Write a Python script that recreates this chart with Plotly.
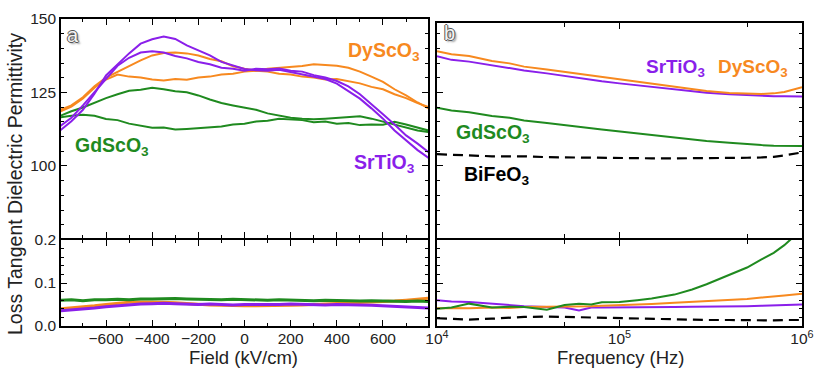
import plotly.graph_objects as go

W, H = 814, 368

# ---------------- Panel a : field sweep ----------------
field = [-800, -750, -700, -650, -600, -550, -500, -450, -400, -350, -300, -250, -200, -150, -100, -50,
         0, 50, 100, 150, 200, 250, 300, 350, 400, 450, 500, 550, 600, 650, 700, 750, 800]

sto_eps_1 = [112.0, 115.2, 119.1, 124.6, 130.8, 134.7, 138.3, 141.6, 143.1, 144.0, 143.2, 141.0, 139.4, 137.6,
             135.4, 134.1, 133.0, 132.6, 132.4, 132.7, 131.9, 131.2, 130.4, 129.6, 128.0, 125.6, 122.9, 119.6,
             116.1, 112.1, 108.6, 105.4, 102.6]
sto_eps_2 = [113.5, 116.4, 120.6, 125.1, 129.9, 134.1, 136.8, 138.6, 139.0, 138.6, 137.4, 136.6, 135.4, 134.6,
             133.4, 133.1, 132.4, 133.1, 132.9, 133.2, 132.4, 132.1, 130.9, 130.1, 128.9, 127.1, 124.4, 121.1,
             117.6, 114.1, 110.4, 107.6, 104.5]
dso_eps_1 = [118.5, 120.2, 123.0, 126.6, 129.4, 131.1, 130.4, 130.1, 129.4, 129.1, 129.6, 129.3, 130.1, 130.4,
             131.1, 131.4, 132.1, 132.4, 133.1, 133.4, 133.6, 134.0, 134.6, 134.4, 134.1, 133.4, 132.1, 130.4,
             128.6, 126.1, 124.0, 121.6, 119.5]
dso_eps_2 = [119.0, 120.6, 123.4, 127.1, 130.1, 132.0, 134.1, 135.9, 137.6, 138.4, 138.6, 138.3, 137.6, 136.4,
             135.6, 133.9, 133.1, 132.4, 132.1, 131.4, 131.1, 130.4, 130.1, 129.4, 129.6, 128.9, 128.1, 126.9,
             126.1, 124.4, 123.1, 121.4, 120.0]
gso_eps_1 = [117.0, 118.6, 119.9, 121.6, 123.1, 124.4, 125.6, 125.9, 126.6, 126.1, 125.4, 125.1, 124.0, 122.6,
             121.4, 120.6, 119.9, 119.1, 117.9, 117.1, 116.4, 116.1, 115.9, 116.1, 116.4, 116.6, 116.9, 116.1,
             115.1, 114.0, 113.1, 112.1, 111.5]
gso_eps_2 = [116.5, 117.1, 117.4, 117.1, 116.0, 115.6, 114.4, 113.6, 113.0, 113.1, 112.4, 112.6, 112.9, 113.1,
             113.4, 114.1, 114.4, 115.1, 115.4, 116.1, 115.9, 115.6, 114.9, 115.1, 114.4, 114.6, 113.9, 114.1,
             114.0, 115.0, 114.1, 113.1, 112.0]

sto_tan = [0.035, 0.037, 0.040, 0.042, 0.045, 0.047, 0.050, 0.051, 0.052, 0.053, 0.052, 0.051, 0.050, 0.051,
           0.050, 0.049, 0.050, 0.050, 0.049, 0.050, 0.051, 0.050, 0.050, 0.049, 0.050, 0.050, 0.049, 0.048,
           0.047, 0.046, 0.044, 0.043, 0.042]
dso_tan = [0.040, 0.042, 0.044, 0.047, 0.050, 0.053, 0.055, 0.056, 0.056, 0.055, 0.054, 0.052, 0.050, 0.049,
           0.048, 0.047, 0.047, 0.047, 0.047, 0.048, 0.048, 0.049, 0.050, 0.051, 0.052, 0.053, 0.054, 0.055,
           0.056, 0.058, 0.060, 0.062, 0.065]
gso_tan = [0.060, 0.061, 0.059, 0.061, 0.061, 0.062, 0.061, 0.063, 0.063, 0.064, 0.064, 0.063, 0.062, 0.062,
           0.061, 0.062, 0.061, 0.061, 0.060, 0.061, 0.060, 0.060, 0.059, 0.060, 0.059, 0.059, 0.058, 0.059,
           0.058, 0.058, 0.057, 0.058, 0.057]

# ---------------- Panel b : frequency sweep ----------------
freq = [1.0e4, 1.2e4, 1.5e4, 2.0e4, 2.5e4, 3.0e4, 4.0e4, 5.0e4, 6.0e4, 7.0e4, 8.0e4, 1.0e5,
        1.25e5, 1.5e5, 2.0e5, 2.5e5, 3.0e5, 4.0e5, 5.0e5, 6.0e5, 7.0e5, 8.0e5, 1.0e6]

dso_eps_f = [139.0, 138.0, 137.4, 135.7, 134.9, 133.8, 132.8, 132.0, 131.2, 130.6, 130.1, 129.3,
             128.5, 127.9, 126.9, 126.1, 125.5, 124.8, 124.5, 124.5, 124.7, 125.2, 126.8]
sto_eps_f = [137.3, 136.1, 135.5, 134.2, 133.3, 132.5, 131.5, 130.6, 129.9, 129.3, 128.8, 128.1,
             127.4, 126.9, 126.0, 125.4, 124.9, 124.4, 124.1, 123.8, 123.7, 123.7, 123.6]
gso_eps_f = [119.8, 118.9, 118.3, 117.0, 116.4, 115.5, 114.6, 113.8, 113.3, 112.8, 112.4, 111.7,
             111.1, 110.6, 109.7, 109.0, 108.5, 107.9, 107.4, 107.1, 106.9, 106.8, 106.8]
bfo_eps_f = [104.0, 103.8, 103.6, 103.3, 103.3, 103.3, 103.0, 102.9, 102.8, 102.7, 102.7, 102.6,
             102.6, 102.6, 102.6, 102.6, 102.6, 102.7, 102.8, 102.9, 103.1, 103.6, 104.6]

dso_tan_f = [0.041, 0.042, 0.041, 0.043, 0.042, 0.044, 0.045, 0.045, 0.046, 0.046, 0.047, 0.048,
             0.049, 0.051, 0.054, 0.056, 0.058, 0.061, 0.063, 0.066, 0.068, 0.071, 0.075]
sto_tan_f = [0.060, 0.057, 0.056, 0.052, 0.048, 0.046, 0.044, 0.043, 0.036, 0.043, 0.043, 0.043,
             0.043, 0.044, 0.044, 0.045, 0.045, 0.046, 0.046, 0.047, 0.048, 0.048, 0.050]
gso_tan_f = [0.040, 0.043, 0.052, 0.043, 0.045, 0.044, 0.038, 0.049, 0.052, 0.050, 0.055, 0.056,
             0.060, 0.064, 0.073, 0.085, 0.097, 0.118, 0.136, 0.155, 0.170, 0.188, 0.225]
bfo_tan_f = [0.018, 0.016, 0.015, 0.017, 0.020, 0.021, 0.022, 0.021, 0.020, 0.019, 0.019, 0.018,
             0.017, 0.016, 0.015, 0.014, 0.014, 0.014, 0.013, 0.013, 0.013, 0.014, 0.014]

ORANGE = "#F7891F"
PURPLE = "#8A1FEA"
GREEN = "#1F8A1F"
BLACK = "#000000"

fig = go.Figure()


def line(x, y, color, xa, ya, width=2.0, dash=None):
    fig.add_trace(go.Scatter(x=x, y=y, mode="lines", xaxis=xa, yaxis=ya, showlegend=False,
                             line=dict(color=color, width=width, dash=dash), hoverinfo="skip"))


# panel a upper
for ys, c in [(gso_eps_1, GREEN), (gso_eps_2, GREEN), (dso_eps_1, ORANGE), (dso_eps_2, ORANGE),
              (sto_eps_1, PURPLE), (sto_eps_2, PURPLE)]:
    line(field, ys, c, "x", "y")
# panel a lower
for ys, c in [(dso_tan, ORANGE), (sto_tan, PURPLE), (gso_tan, GREEN)]:
    line(field, ys, c, "x2", "y2", width=3)
# panel b upper
for ys, c in [(gso_eps_f, GREEN), (sto_eps_f, PURPLE), (dso_eps_f, ORANGE)]:
    line(freq, ys, c, "x3", "y3")
line(freq, bfo_eps_f, BLACK, "x3", "y3", width=2.2, dash="10px,6px")
# panel b lower
for ys, c in [(sto_tan_f, PURPLE), (dso_tan_f, ORANGE), (gso_tan_f, GREEN)]:
    line(freq, ys, c, "x4", "y4")
line(freq, bfo_tan_f, BLACK, "x4", "y4", width=2.2, dash="10px,6px")


def px_x(p):
    return p / W


def px_y(p):
    return 1 - p / H


FONT = "Liberation Sans, Arial, sans-serif"
common = dict(showline=True, linecolor="black", linewidth=1.6, mirror="ticks", ticks="inside",
              ticklen=6, tickwidth=1.2, tickcolor="black", showgrid=False, zeroline=False,
              tickfont=dict(family=FONT, size=15.5, color="#222"))

xa_dom = [px_x(61), px_x(428)]
xb_dom = [px_x(437), px_x(802)]
up_dom = [px_y(238), px_y(19)]
upb_dom = [px_y(238), px_y(22.7)]
lo_dom = [px_y(326), px_y(240)]

minor_f = dict(dtick=100, ticks="inside", ticklen=3, tickcolor="black", tickwidth=1, showgrid=False)
minor_eps = dict(dtick=5, ticks="inside", ticklen=3, tickcolor="black", tickwidth=1, showgrid=False)
minor_tan = dict(dtick=0.02, ticks="inside", ticklen=3, tickcolor="black", tickwidth=1, showgrid=False)
minor_log = dict(tickmode="array", tickvals=[5e4, 5e5], ticks="inside", ticklen=4, tickcolor="black",
                 tickwidth=1, showgrid=False)

fig.update_layout(
    width=W, height=H, margin=dict(l=0, r=0, t=0, b=0, autoexpand=False),
    paper_bgcolor="white", plot_bgcolor="white",
    font=dict(family=FONT, color="#222"),
    xaxis=dict(domain=xa_dom, range=[-795, 795], anchor="y", tickvals=[-600, -400, -200, 0, 200, 400, 600],
               showticklabels=False, minor=minor_f, **common),
    yaxis=dict(domain=up_dom, range=[75.5, 150], anchor="x", tickvals=[100, 125, 150], minor=minor_eps, **common),
    xaxis2=dict(domain=xa_dom, range=[-795, 795], anchor="y2", tickvals=[-600, -400, -200, 0, 200, 400, 600],
                minor=minor_f, ticklabelstandoff=-2, **common),
    yaxis2=dict(domain=lo_dom, range=[0, 0.2], anchor="x2", tickvals=[0, 0.1, 0.2], tickformat=".1f",
                minor=minor_tan, **common),
    xaxis3=dict(domain=xb_dom, type="log", range=[4, 6], anchor="y3", tickvals=[1e4, 1e5, 1e6],
                showticklabels=False, minor=minor_log, **common),
    yaxis3=dict(domain=upb_dom, range=[75.5, 148.74], anchor="x3", tickvals=[100, 125],
                showticklabels=False, minor=minor_eps, **common),
    xaxis4=dict(domain=xb_dom, type="log", range=[4, 6], anchor="y4", tickvals=[1e4, 1e5, 1e6],
                ticktext=["10<sup>4</sup>", "10<sup>5</sup>", "10<sup>6</sup>"], minor=minor_log,
                ticklabelstandoff=-2, **common),
    yaxis4=dict(domain=lo_dom, range=[0, 0.2], anchor="x4", tickvals=[0, 0.1, 0.2],
                showticklabels=False, minor=minor_tan, **common),
)

ann = []


def label(text, x, y, color, size=19.5, bold=True, xanchor="center", angle=0, shadow=None):
    f = dict(family=FONT, size=size, color=color)
    if shadow:
        f["shadow"] = shadow
    ann.append(dict(text=("<b>%s</b>" % text) if bold else text, x=px_x(x), y=px_y(y), xref="paper",
                    yref="paper", showarrow=False, xanchor=xanchor, yanchor="middle", textangle=angle,
                    font=f))


label("DyScO<sub>3</sub>", 384, 52, ORANGE)
label("SrTiO<sub>3</sub>", 384, 163, PURPLE)
label("GdScO<sub>3</sub>", 112, 147, GREEN)
label("SrTiO<sub>3</sub>", 675, 68, PURPLE, size=19)
label("DyScO<sub>3</sub>", 753, 68, ORANGE, size=19)
label("GdScO<sub>3</sub>", 493, 134, GREEN)
label("BiFeO<sub>3</sub>", 496, 175, BLACK)
label("Field (kV/cm)", 244, 357, "#222", size=18.5, bold=False)
label("Frequency (Hz)", 620, 357, "#222", size=18.5, bold=False)
label("Loss Tangent Dielectric Permittivity", 15, 184, "#222", size=19.5, bold=False, angle=-90)
OUTLINE = "-1px 0 0 #555, 1px 0 0 #555, 0 -1px 0 #555, 0 1px 0 #555, 2px 2px 2px #999"
label("a", 73, 35, "#f4f4f4", size=20, bold=False, shadow=OUTLINE)
label("b", 449, 33, "#f4f4f4", size=20, bold=False, shadow=OUTLINE)

fig.update_layout(annotations=ann)
fig.write_html("out.html")
